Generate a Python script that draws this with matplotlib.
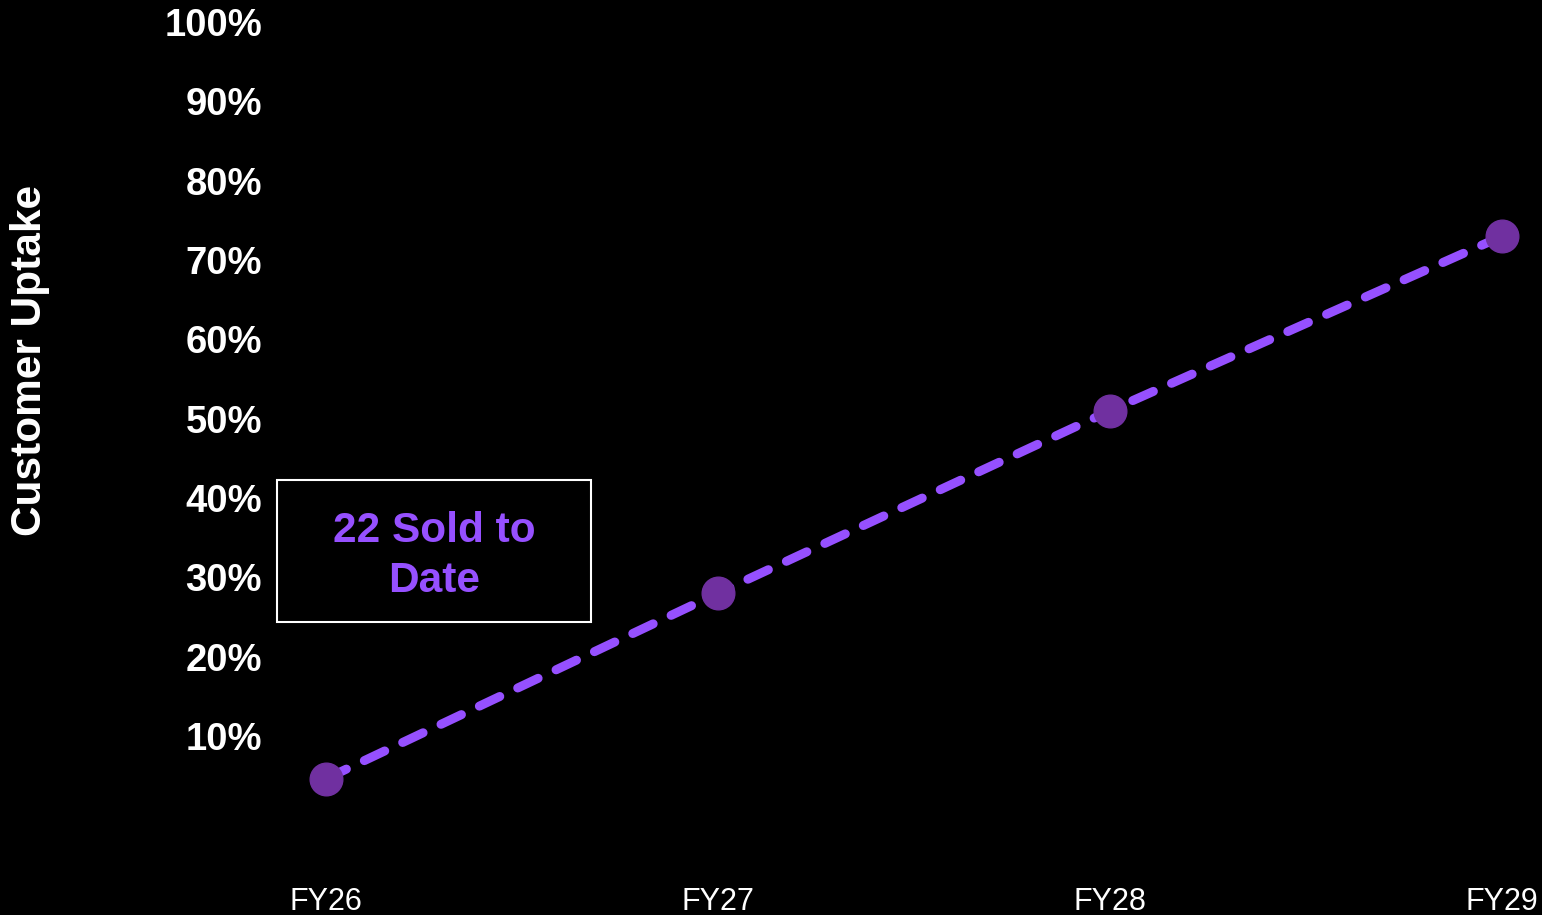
import matplotlib.pyplot as plt
from matplotlib.patches import Rectangle

# data
years = ["FY26", "FY27", "FY28", "FY29"]
uptake = [0.046, 0.28, 0.51, 0.73]
y_ticks = [0.1, 0.2, 0.3, 0.4, 0.5, 0.6, 0.7, 0.8, 0.9, 1.0]
y_labels = ["10%", "20%", "30%", "40%", "50%", "60%", "70%", "80%", "90%", "100%"]
note = "22 Sold to\nDate"

plt.rcParams['font.family'] = ['Liberation Sans', 'DejaVu Sans']

fig = plt.figure(figsize=(15.42, 9.15), dpi=100, facecolor='black')
ax = fig.add_axes([0.2114, 0.109, 0.7627, 0.867])
ax.set_facecolor('black')

x = list(range(len(years)))
line_color = '#9650FF'
ax.plot(x, uptake, color=line_color, lw=6.5, linestyle=(0, (2.5, 2.2)),
        dash_capstyle='round', clip_on=False, zorder=2)
ax.plot(x, uptake, 'o', color='#7030A0', markersize=23.5, clip_on=False, zorder=3)

ax.set_xlim(0, len(years) - 1)
ax.set_ylim(0, 1)
ax.set_xticks(x)
ax.set_xticklabels(years, fontsize=22, color='white')
ax.set_yticks(y_ticks)
ax.set_yticklabels(y_labels, fontsize=27.5, fontweight='bold', color='white')
ax.tick_params(axis='x', length=0, pad=52)
ax.tick_params(axis='y', length=0, pad=46)
for s in ax.spines.values():
    s.set_visible(False)

fig.text(30 / 1542, 1 - 360 / 915, "Customer Uptake", rotation=90, fontsize=30.5,
         fontweight='bold', color='white', ha='center', va='center')

# annotation box
fig.patches.append(Rectangle((277 / 1542, 1 - 622 / 915), 314 / 1542, 142 / 915,
                             transform=fig.transFigure, fill=False,
                             edgecolor='white', lw=1.5))
fig.text(434 / 1542, 1 - 556 / 915, note, fontsize=30.5, fontweight='bold',
         color=line_color, ha='center', va='center', linespacing=1.32)

fig.savefig('out.png', dpi=100, facecolor='black')
